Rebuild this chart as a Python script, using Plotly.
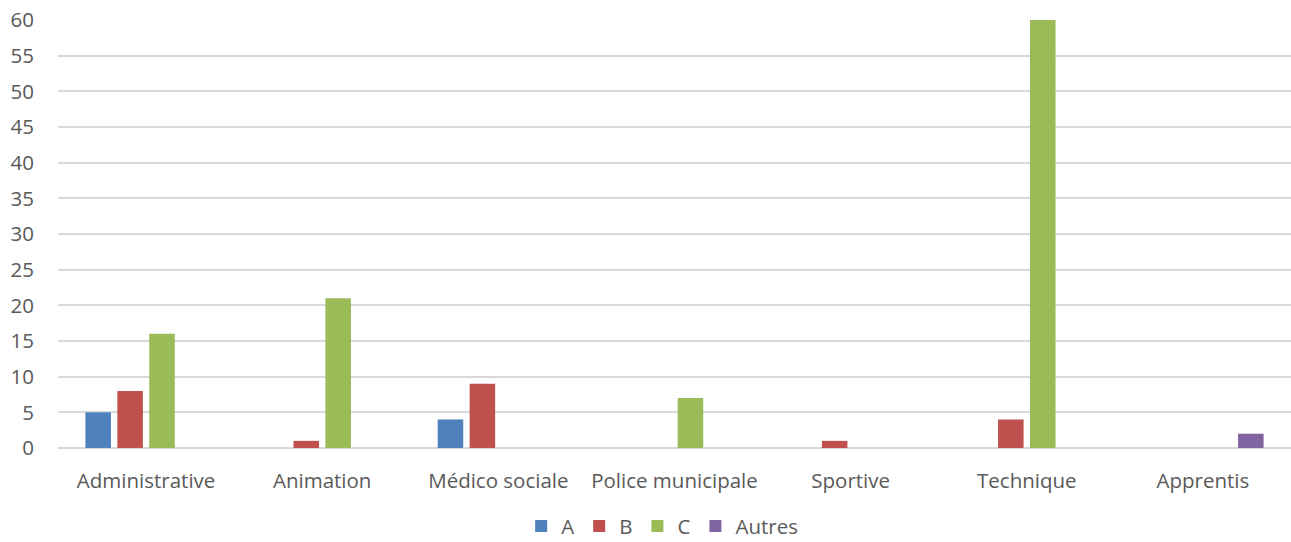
import plotly.graph_objects as go

categories = ["Administrative", "Animation", "Médico sociale", "Police municipale",
              "Sportive", "Technique", "Apprentis"]
series_names = ["A", "B", "C", "Autres"]
values_a = [5, 0, 4, 0, 0, 0, 0]
values_b = [8, 1, 9, 0, 1, 4, 0]
values_c = [16, 21, 0, 7, 0, 60, 0]
values_autres = [0, 0, 0, 0, 0, 0, 2]
colors = ["#4F81BD", "#C0504D", "#9BBB59", "#8064A2"]
y_ticks = list(range(0, 61, 5))

font_family = "Open Sans, Liberation Sans, sans-serif"
text_color = "#595959"
fsize = 20.5

fig = go.Figure()
for name, vals, col in zip(series_names, [values_a, values_b, values_c, values_autres], colors):
    fig.add_trace(go.Bar(
        name=name, x=categories, y=vals,
        marker=dict(color=col, line=dict(width=0)),
    ))

fig.update_layout(
    width=1291, height=542,
    margin=dict(l=58, r=0, t=20, b=94),
    paper_bgcolor="white", plot_bgcolor="white",
    barmode="group", bargap=0.275, bargroupgap=0.2,
    font=dict(family=font_family, size=fsize, color=text_color),
    legend=dict(orientation="h", x=0.49, xanchor="center",
                yref="container", y=0.029, yanchor="middle",
                font=dict(size=fsize, color=text_color), traceorder="normal",
                itemwidth=30),
    showlegend=True,
)
fig.update_xaxes(showgrid=False, showline=False, ticks="", ticklabelstandoff=18,
                 automargin=False, tickfont=dict(size=fsize, color=text_color))
fig.update_yaxes(range=[0, 60], tickvals=y_ticks, showgrid=True, gridcolor="#D9D9D9",
                 gridwidth=1.5, zeroline=True, zerolinecolor="#D9D9D9", zerolinewidth=1.5,
                 showline=False, ticks="", ticklabelstandoff=23, automargin=False,
                 tickfont=dict(size=fsize, color=text_color))

fig.write_html("out.html")
